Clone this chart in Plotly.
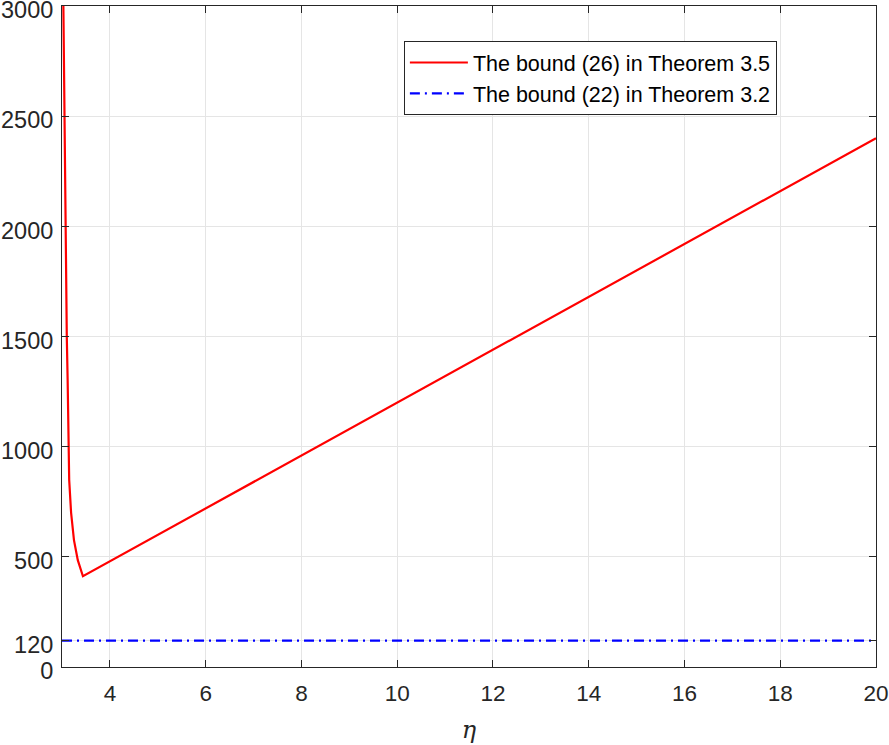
import plotly.graph_objects as go

# values
eta_26 = [3.024, 3.049, 3.077, 3.100, 3.118, 3.138, 3.150, 3.190, 3.250, 3.330, 3.437, 20.0]
bound_26 = [3100, 2500, 2000, 1500, 1300, 1000, 850, 700, 576, 485, 412, 2400]

eta_22 = [3.0, 20.0]
bound_22 = [120, 120]

x_ticks = [4, 6, 8, 10, 12, 14, 16, 18, 20]
y_ticks = [0, 120, 500, 1000, 1500, 2000, 2500, 3000]

FONT = "Liberation Sans, Arial, sans-serif"

fig = go.Figure()
fig.add_trace(go.Scatter(
    x=eta_26, y=bound_26, mode="lines",
    name="The bound (26) in Theorem 3.5",
    line=dict(color="#ff0000", width=2.2),
))
fig.add_trace(go.Scatter(
    x=eta_22, y=bound_22, mode="lines",
    name="The bound (22) in Theorem 3.2",
    line=dict(color="#0000ff", width=2.2, dash="10px,5px,2px,5px"),
))

axis_common = dict(
    showline=True, linecolor="#262626", linewidth=1, mirror="ticks",
    ticks="inside", ticklen=7, tickcolor="#262626",
    showgrid=True, gridcolor="#e5e5e5", gridwidth=1,
    zeroline=False, automargin=False, ticklabeloverflow="allow",
)

fig.update_xaxes(
    range=[3, 20], tickvals=x_ticks,
    tickfont=dict(family=FONT, size=22.5, color="#262626"),
    ticklabelstandoff=6,
    title=dict(text="<i>η</i>", font=dict(family="DejaVu Serif, serif", size=24, color="#262626"), standoff=16),
    **axis_common,
)
fig.update_yaxes(
    range=[0, 3000], tickvals=y_ticks,
    tickfont=dict(family=FONT, size=23.5, color="#262626"),
    ticklabelstandoff=3, ticklabelshift=4,
    **axis_common,
)

fig.update_layout(
    width=889, height=745,
    margin=dict(l=62, r=13, t=6, b=78),
    paper_bgcolor="white", plot_bgcolor="white",
    font=dict(family=FONT, color="#000000"),
    legend=dict(
        x=0.42, y=0.947, xanchor="left", yanchor="top",
        bgcolor="white", bordercolor="#262626", borderwidth=1,
        font=dict(family=FONT, size=21.5, color="#000000"),
        itemwidth=58, tracegroupgap=0,
    ),
    showlegend=True,
)

# the page's default 8px body margin would shift the whole figure
fig.write_html(
    "out.html",
    config={"displayModeBar": False},
    post_script="document.body.style.margin='0';",
)
